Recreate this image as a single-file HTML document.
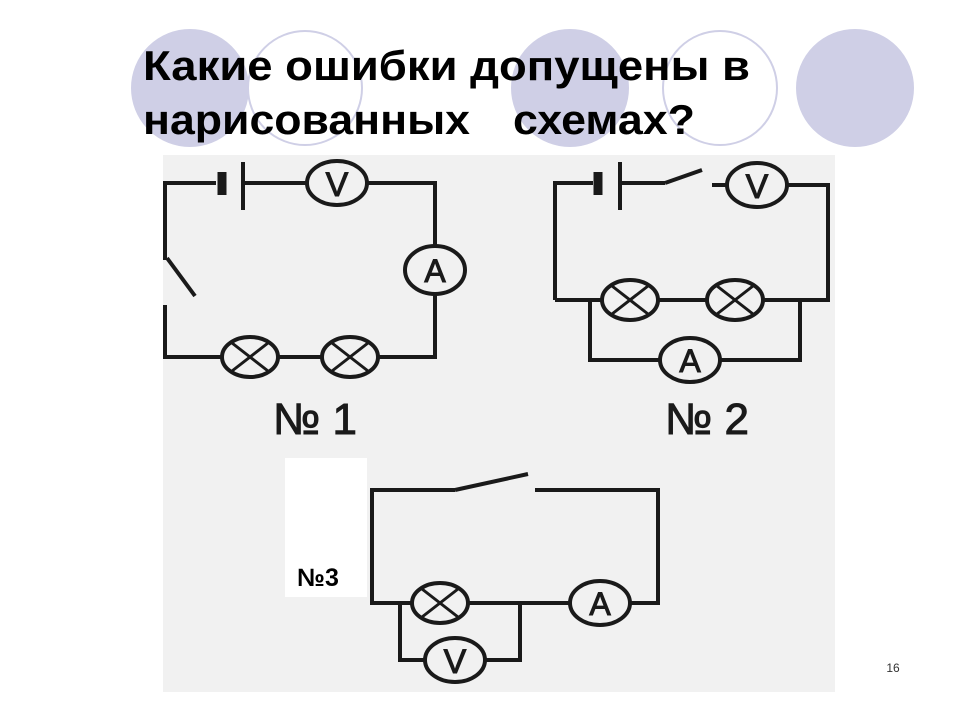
<!DOCTYPE html>
<html><head><meta charset="utf-8"><style>
html,body{margin:0;padding:0;background:#fff;}
svg{display:block}
</style></head><body>
<svg width="960" height="720" viewBox="0 0 960 720" xmlns="http://www.w3.org/2000/svg">
<rect width="960" height="720" fill="#fff"/>
<g fill="#cfcfe6" stroke="#cfcfe6" stroke-width="2">
<circle cx="190" cy="88" r="58"/>
<circle cx="305" cy="88" r="57" fill="none"/>
<circle cx="570" cy="88" r="58"/>
<circle cx="720" cy="88" r="57" fill="none"/>
<circle cx="855" cy="88" r="58"/>
</g>
<g font-family="'Liberation Sans Narrow','Liberation Sans',sans-serif" font-weight="bold" font-size="42" fill="#000">
<text x="143" y="80" textLength="607" lengthAdjust="spacingAndGlyphs">Какие ошибки допущены в</text>
<text x="143" y="134" textLength="327" lengthAdjust="spacingAndGlyphs">нарисованных</text>
<text x="513" y="134" textLength="182" lengthAdjust="spacingAndGlyphs">схемах?</text>
</g>
<rect x="163" y="155" width="672" height="537" fill="#f1f1f1"/>
<g stroke="#1a1a1a" stroke-width="4" fill="none">
<polyline points="165,260 165,183 216,183"/>
<line x1="222" y1="172" x2="222" y2="195" stroke-width="9"/>
<line x1="243" y1="162" x2="243" y2="210"/>
<line x1="243" y1="183" x2="307" y2="183"/>
<ellipse cx="337" cy="183" rx="30" ry="22"/>
<polyline points="367,183 435,183 435,246"/>
<ellipse cx="435" cy="270" rx="30" ry="24"/>
<polyline points="435,294 435,357 378,357"/>
<ellipse cx="350" cy="357" rx="28" ry="20"/>
<line x1="322" y1="357" x2="278" y2="357"/>
<ellipse cx="250" cy="357" rx="28" ry="20"/>
<polyline points="222,357 165,357 165,305"/>
<line x1="167" y1="258" x2="195" y2="296"/>
<polyline points="555,300 555,183 593,183"/>
<line x1="598" y1="172" x2="598" y2="195" stroke-width="9"/>
<line x1="620" y1="162" x2="620" y2="210"/>
<line x1="620" y1="183" x2="665" y2="183"/>
<line x1="665" y1="183" x2="702" y2="170"/>
<line x1="712" y1="185" x2="727" y2="185"/>
<ellipse cx="757" cy="185" rx="30" ry="22"/>
<polyline points="787,185 828,185 828,300 763,300"/>
<ellipse cx="735" cy="300" rx="28" ry="20"/>
<line x1="707" y1="300" x2="658" y2="300"/>
<ellipse cx="630" cy="300" rx="28" ry="20"/>
<line x1="602" y1="300" x2="555" y2="300"/>
<polyline points="590,300 590,360 660,360"/>
<ellipse cx="690" cy="360" rx="30" ry="22"/>
<polyline points="720,360 800,360 800,300"/>
<polyline points="455,490 372,490 372,603 412,603"/>
<line x1="455" y1="490" x2="528" y2="474"/>
<polyline points="535,490 658,490 658,603 630,603"/>
<ellipse cx="600" cy="603" rx="30" ry="22"/>
<line x1="570" y1="603" x2="468" y2="603"/>
<ellipse cx="440" cy="603" rx="28" ry="20"/>
<polyline points="400,603 400,660 425,660"/>
<ellipse cx="455" cy="660" rx="30" ry="22"/>
<polyline points="485,660 520,660 520,603"/>
</g>
<g font-family="'Liberation Sans',sans-serif" fill="#1a1a1a" text-anchor="middle" stroke="#1a1a1a" stroke-width="1">
<text x="337" y="196" font-size="34">V</text>
<text x="435" y="282" font-size="32">A</text>
<text x="757" y="198" font-size="34">V</text>
<text x="690" y="372" font-size="32">A</text>
<text x="600" y="615" font-size="32">A</text>
<text x="455" y="673" font-size="34">V</text>
<text x="315" y="434" font-size="44">№ 1</text>
<text x="707" y="434" font-size="44">№ 2</text>
</g>
<g stroke="#1a1a1a" stroke-width="3">
<line x1="232" y1="343" x2="268" y2="371"/><line x1="268" y1="343" x2="232" y2="371"/>
<line x1="332" y1="343" x2="368" y2="371"/><line x1="368" y1="343" x2="332" y2="371"/>
<line x1="612" y1="286" x2="648" y2="314"/><line x1="648" y1="286" x2="612" y2="314"/>
<line x1="717" y1="286" x2="753" y2="314"/><line x1="753" y1="286" x2="717" y2="314"/>
<line x1="422" y1="589" x2="458" y2="617"/><line x1="458" y1="589" x2="422" y2="617"/>
</g>
<rect x="285" y="458" width="82" height="139" fill="#fff"/>
<text x="318" y="586" font-family="'Liberation Sans',sans-serif" font-weight="bold" font-size="25" text-anchor="middle">№3</text>
<text x="893" y="672" font-family="'Liberation Sans',sans-serif" font-size="12" text-anchor="middle" fill="#333">16</text>
</svg>
</body></html>
